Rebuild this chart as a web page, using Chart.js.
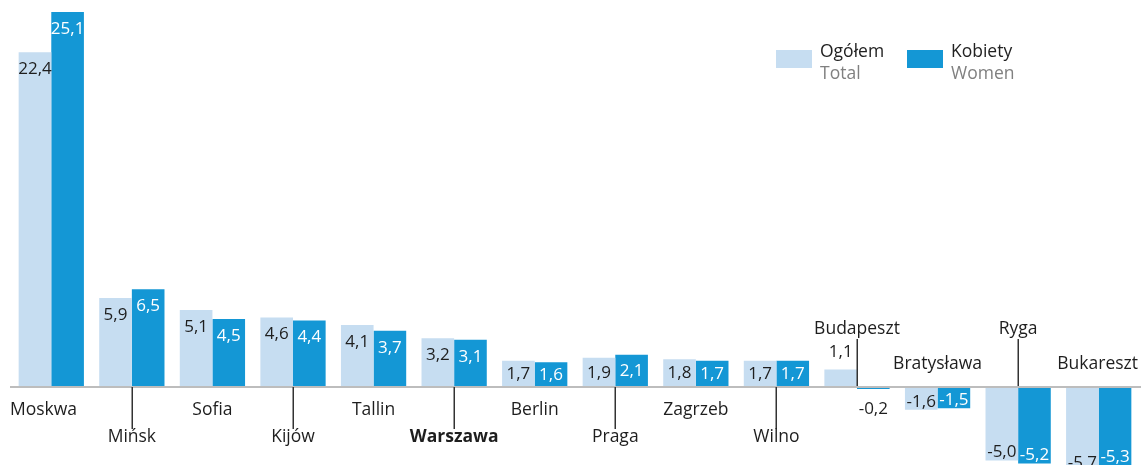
<!DOCTYPE html>
<html>
<head>
<meta charset="utf-8">
<script src="https://cdn.jsdelivr.net/npm/chart.js@4"></script>
<style>
  body { margin: 0; background: #fff; }
  #wrap { position: relative; width: 1141px; height: 465px; }
  .leg { position: absolute; font-family: "Open Sans", sans-serif; font-size: 17.5px; line-height: 22px; }
  .leg .sw { position: absolute; left: 0; top: 11px; width: 36px; height: 18px; }
  .leg .t { position: absolute; left: 44px; top: 0; white-space: nowrap; color: #222; }
  .leg .t span { color: #808080; display: block; }
</style>
</head>
<body>
<div id="wrap">
  <canvas id="myChart" width="1141" height="465"></canvas>
  <div class="leg" style="left:776px;top:39px"><div class="sw" style="background:#c6ddf1"></div><div class="t">Ogółem<span>Total</span></div></div>
  <div class="leg" style="left:907px;top:39px"><div class="sw" style="background:#1497d5"></div><div class="t">Kobiety<span>Women</span></div></div>
</div>
<script>
const cities = ["Moskwa", "Mińsk", "Sofia", "Kijów", "Tallin", "Warszawa", "Berlin", "Praga",
  "Zagrzeb", "Wilno", "Budapeszt", "Bratysława", "Ryga", "Bukareszt"];
const ogolem = [22.4, 5.9, 5.1, 4.6, 4.1, 3.2, 1.7, 1.9, 1.8, 1.7, 1.1, -1.6, -5.0, -5.7];
const kobiety = [25.1, 6.5, 4.5, 4.4, 3.7, 3.1, 1.6, 2.1, 1.7, 1.7, -0.2, -1.5, -5.2, -5.3];

const FONT = '"Open Sans", sans-serif';

function fmt(v) {
  return v.toFixed(1).replace(".", ",");
}

// axis line, category names and value labels
const extras = {
  id: "extras",
  afterDatasetsDraw(chart) {
    const c = chart.ctx;
    const x = chart.scales.x;
    const y = chart.scales.y;
    const y0 = y.getPixelForValue(0);

    c.save();
    c.fillStyle = "#bdbdbd";
    c.fillRect(10, y0, 1131, 2);

    // value labels
    c.font = "17px " + FONT;
    c.textAlign = "center";
    c.textBaseline = "middle";
    chart.data.datasets.forEach(function(ds, di) {
      const meta = chart.getDatasetMeta(di);
      meta.data.forEach(function(bar, i) {
        const v = ds.data[i];
        const h = Math.abs(bar.base - bar.y);
        let ty;
        let col = di === 0 ? "#1e1e1e" : "#fff";
        if (h < 20) {
          col = "#1e1e1e";
          ty = v >= 0 ? bar.y - 17 : bar.y + 20;
        } else if (v >= 0) {
          ty = bar.y + Math.min(17, h / 2 + 1);
        } else {
          ty = bar.y - 8;
        }
        c.fillStyle = col;
        c.fillText(fmt(v), bar.x, ty);
      });
    });

    // category names
    cities.forEach(function(name, i) {
      const cx = x.getPixelForValue(i);
      const above = Math.min(ogolem[i], kobiety[i]) < 0;
      const far = (i % 2 === 1) !== above;
      c.font = (name === "Warszawa" ? "bold " : "") + "17.5px " + FONT;
      const w = c.measureText(name).width;
      let left = i === 0 ? 10 : Math.min(cx - w / 2, 1138 - w);
      let ty;
      if (!above) {
        ty = far ? 437 : 410;
        if (far) {
          c.fillStyle = "#333";
          c.fillRect(Math.round(cx) - 0.5, y0 + 1, 1.5, 42);
        }
      } else {
        ty = far ? 329 : 364;
        if (far) {
          c.fillStyle = "#333";
          c.fillRect(Math.round(cx) - 0.5, 339, 1.5, y0 - 339);
        }
      }
      c.fillStyle = "#1e1e1e";
      c.textAlign = "left";
      c.fillText(name, left, ty);
    });
    c.restore();
  }
};

const ctx = document.getElementById("myChart");
const myChart = new Chart(ctx, {
  type: "bar",
  data: {
    labels: cities,
    datasets: [
      {
        label: "Ogółem",
        data: ogolem,
        backgroundColor: "#c6ddf1",
        borderWidth: 0,
      },
      {
        label: "Kobiety",
        data: kobiety,
        backgroundColor: "#1497d5",
        borderWidth: 0,
      },
    ],
  },
  options: {
    responsive: false,
    animation: false,
    categoryPercentage: 0.81,
    barPercentage: 1,
    layout: { padding: { left: 11, right: 2, top: 0, bottom: 0 } },
    plugins: { legend: { display: false }, tooltip: { enabled: false } },
    scales: {
      x: { display: false },
      y: { display: false, min: -5.3, max: 25.9 },
    },
  },
  plugins: [extras],
});
</script>
</body>
</html>
